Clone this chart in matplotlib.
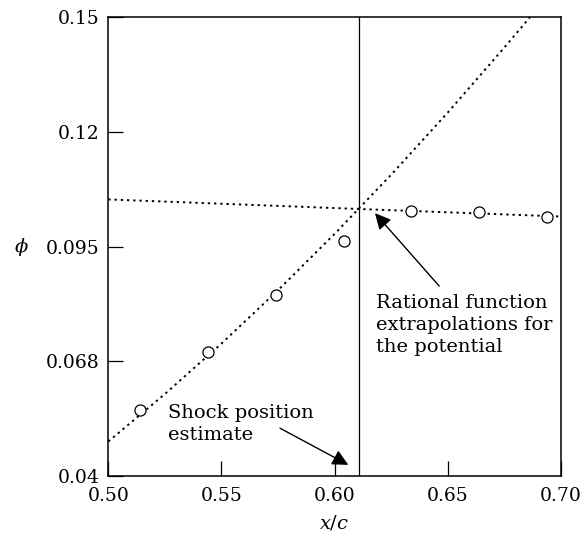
import matplotlib
matplotlib.use("Agg")
import matplotlib.pyplot as plt

plt.rcParams['font.family'] = ['DejaVu Serif']
plt.rcParams['mathtext.fontset'] = 'dejavuserif'

# computed potential at the grid points
x_pts = [0.514, 0.544, 0.574, 0.604, 0.634, 0.664, 0.694]
phi_pts = [0.0558, 0.0697, 0.0833, 0.0963, 0.1035, 0.1033, 0.1021]

# extrapolation from upstream side
x_up = [0.500, 0.525, 0.550, 0.575, 0.600, 0.625, 0.650, 0.675, 0.6864]
phi_up = [0.0482, 0.0596, 0.0717, 0.0845, 0.0980, 0.1122, 0.1271, 0.1427, 0.1500]

# extrapolation from downstream side
x_down = [0.500, 0.611, 0.700]
phi_down = [0.1063, 0.1040, 0.1022]

x_shock = 0.611

xticks = [0.50, 0.55, 0.60, 0.65, 0.70]
xlabels = ['0.50', '0.55', '0.60', '0.65', '0.70']
yticks = [0.04, 0.0675, 0.095, 0.1225, 0.15]
ylabels = ['0.04', '0.068', '0.095', '0.12', '0.15']

fig = plt.figure(figsize=(5.82, 5.36), dpi=100)
ax = fig.add_axes([0.1861, 0.1125, 0.7773, 0.8552])

dots = (0, (1.2, 2.0))
ax.plot(x_up, phi_up, color='black', lw=1.4, linestyle=dots)
ax.plot(x_down, phi_down, color='black', lw=1.4, linestyle=dots)
ax.axvline(x_shock, color='black', lw=0.9)
ax.plot(x_pts, phi_pts, 'o', ms=8, mfc='white', mec='black', mew=0.9, zorder=5)

arrow = dict(arrowstyle='-|>', color='black', lw=1.0, mutation_scale=24,
             shrinkA=0, shrinkB=0)
ax.annotate('', xy=(0.6061, 0.0426), xytext=(0.5759, 0.0514), arrowprops=arrow)
ax.annotate('', xy=(0.6179, 0.1030), xytext=(0.6463, 0.0855), arrowprops=arrow)

ax.text(0.5265, 0.0573, 'Shock position\nestimate', fontsize=14,
        va='top', ha='left', linespacing=1.3)
ax.text(0.6185, 0.0837, 'Rational function\nextrapolations for\nthe potential',
        fontsize=14, va='top', ha='left', linespacing=1.3)

ax.set_xlim(0.50, 0.70)
ax.set_ylim(0.04, 0.15)
ax.set_xticks(xticks)
ax.set_xticklabels(xlabels)
ax.set_yticks(yticks)
ax.set_yticklabels(ylabels)
ax.tick_params(direction='in', length=10.5, width=0.9, labelsize=13.5, pad=6)
ax.tick_params(axis='x', pad=8)
for s in ax.spines.values():
    s.set_linewidth(1.1)

ax.set_xlabel('$x/c$', fontsize=14, labelpad=6)
ax.set_ylabel(r'$\phi$', fontsize=14, rotation=0, labelpad=18, va='center')

fig.savefig('out.png', dpi=100)
